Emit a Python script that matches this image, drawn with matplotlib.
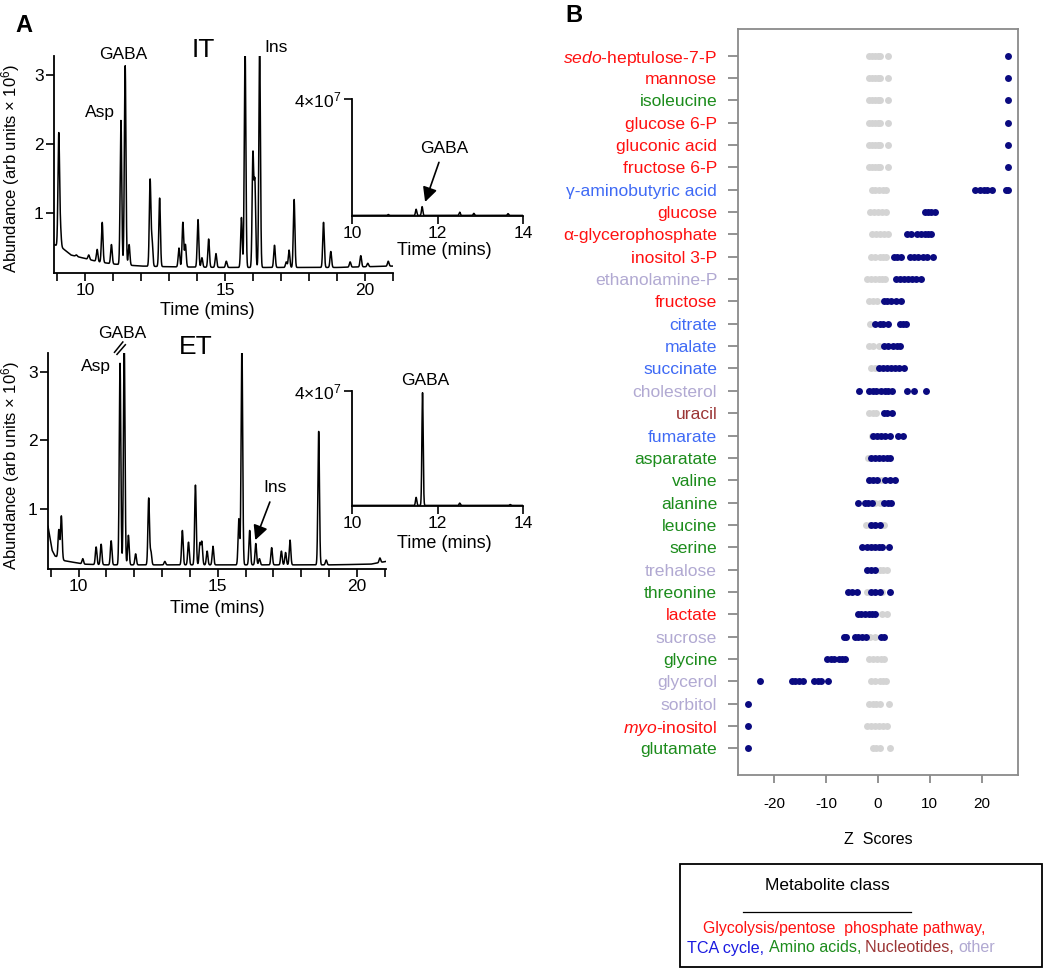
import numpy as np
import matplotlib
matplotlib.use("Agg")
import matplotlib.pyplot as plt
from matplotlib.patches import Rectangle
from matplotlib.lines import Line2D

plt.rcParams["font.family"] = ["Liberation Sans", "DejaVu Sans"]
plt.rcParams["mathtext.fontset"] = "custom"
plt.rcParams["mathtext.rm"] = "Liberation Sans"
plt.rcParams["mathtext.it"] = "Liberation Sans:italic"
plt.rcParams["axes.unicode_minus"] = False

# ---------------- Panel A data (time in mins, abundance x 1e6) ----------------
it_peak_t = [9.07, 9.13, 9.45, 9.7, 10.14, 10.44, 10.62, 10.95, 11.29, 11.44, 11.58,
             12.33, 12.40, 12.67, 13.36, 13.50, 13.59, 14.04, 14.18, 14.42, 14.68,
             15.05, 15.59, 15.72, 16.00, 16.07, 16.24, 16.77, 17.19, 17.29, 17.47,
             18.52, 18.78, 19.47, 19.85, 20.1, 20.83]
it_peak_h = [2.14, 0.76, 0.42, 0.40, 0.40, 0.48, 0.87, 0.55, 2.34, 3.13, 0.55,
             1.48, 0.60, 1.22, 0.50, 0.87, 0.55, 0.91, 0.36, 0.63, 0.42,
             0.31, 0.94, 3.40, 1.84, 1.43, 3.40, 0.54, 0.30, 0.47, 1.20,
             0.87, 0.45, 0.30, 0.39, 0.28, 0.31]
it_base_t = [8.9, 9.2, 9.5, 10.0, 10.5, 11.0, 12.0, 13.0, 15.0, 17.0, 19.0, 21.0]
it_base_h = [0.55, 0.50, 0.40, 0.35, 0.30, 0.27, 0.24, 0.23, 0.22, 0.22, 0.22, 0.24]

et_peak_t = [9.29, 9.38, 10.15, 10.63, 10.81, 11.17, 11.49, 11.64, 11.79, 12.05,
             12.52, 12.60, 13.1, 13.73, 13.95, 14.20, 14.36, 14.43, 14.62, 14.83,
             15.76, 15.87, 16.15, 16.37, 16.50, 16.94, 17.29, 17.44, 17.60, 18.63,
             18.9, 20.83]
et_peak_h = [0.70, 0.90, 0.28, 0.45, 0.49, 0.54, 3.12, 3.40, 0.62, 0.35,
             1.16, 0.38, 0.24, 0.69, 0.52, 1.35, 0.50, 0.52, 0.39, 0.46,
             0.86, 3.40, 0.69, 0.50, 0.28, 0.44, 0.39, 0.37, 0.55, 2.13,
             0.26, 0.29]
et_base_t = [8.9, 8.98, 9.05, 9.15, 9.5, 10.2, 11.0, 12.5, 16.0, 19.0, 20.5, 21.05]
et_base_h = [0.75, 0.56, 0.40, 0.32, 0.25, 0.20, 0.19, 0.19, 0.19, 0.19, 0.20, 0.24]

# insets (time in mins, abundance)
it_in_t = [10.85, 11.50, 11.64, 12.52, 12.85, 13.65]
it_in_h = [0.05e7, 0.23e7, 0.32e7, 0.13e7, 0.09e7, 0.08e7]
et_in_t = [11.50, 11.65, 12.52, 13.7]
et_in_h = [0.30e7, 3.94e7, 0.10e7, 0.05e7]

# ---------------- Panel B data: Z scores ----------------
metabolites = [
    "$\\mathit{sedo}$-heptulose-7-P", "mannose", "isoleucine", "glucose 6-P",
    "gluconic acid", "fructose 6-P", "γ-aminobutyric acid", "glucose",
    "α-glycerophosphate", "inositol 3-P", "ethanolamine-P", "fructose", "citrate",
    "malate", "succinate", "cholesterol", "uracil", "fumarate", "asparatate",
    "valine", "alanine", "leucine", "serine", "trehalose", "threonine", "lactate",
    "sucrose", "glycine", "glycerol", "sorbitol", "$\\mathit{myo}$-inositol", "glutamate",
]
classes = ["gly", "gly", "aa", "gly", "gly", "gly", "tca", "gly", "gly", "gly",
           "other", "gly", "tca", "tca", "tca", "other", "nuc", "tca", "aa", "aa",
           "aa", "aa", "aa", "other", "aa", "gly", "other", "aa", "other", "other",
           "gly", "aa"]
ctrl_z = [
    [-1.8, -1.2, -0.6, 0.0, 0.4, 1.9], [-1.8, -1.2, -0.6, 0.0, 0.4, 1.9],
    [-1.8, -1.2, -0.6, 0.0, 0.4, 1.9], [-1.8, -1.2, -0.6, 0.0, 0.4, 1.9],
    [-1.8, -1.2, -0.6, 0.0, 0.4, 1.9], [-1.8, -1.2, -0.6, 0.0, 0.4, 1.9],
    [-1.2, -0.5, 0.2, 0.9, 1.6], [-1.5, -0.8, 0.0, 0.8, 1.6],
    [-1.2, -0.4, 0.4, 1.2, 1.9], [-1.3, -0.5, 0.3, 1.0, 1.6],
    [-2.1, -1.4, -0.6, 0.2, 0.8, 1.4], [-1.7, -0.9, -0.2],
    [-1.5], [-1.8, -1.0, 0.1], [-1.4, -0.6], [-1.5, 0.0, 1.5],
    [-1.8, -1.0, -0.3], [-1.2, 0.0], [-2.0], [-1.5, 0.5],
    [-0.5, 0.4], [-2.3, -1.5, -0.5, 0.5, 1.2], [-1.0, 0.5], [0.3, 1.0, 1.8],
    [-2.2, 0.8], [0.8, 1.8], [-1.5, -0.6], [-1.8, -1.0, -0.2, 0.5, 1.1],
    [-1.3, -0.5, 0.3, 1.0, 1.6], [-1.7, -1.0, -0.3, 0.4, 2.1],
    [-2.1, -1.4, -0.6, 0.2, 1.0, 1.7], [-1.0, -0.3, 0.3, 2.4],
]
treat_z = [
    [25.0], [25.0], [25.0], [25.0], [25.0], [25.0],
    [18.8, 19.6, 20.4, 21.0, 22.0, 24.6, 25.1],
    [9.1, 9.7, 10.3, 10.9],
    [5.6, 6.3, 7.5, 8.2, 9.0, 9.6, 10.2],
    [3.0, 3.7, 4.4, 6.2, 7.0, 7.8, 8.6, 9.4, 10.6],
    [3.5, 4.3, 5.0, 5.8, 6.6, 7.4, 8.2],
    [1.1, 1.8, 2.6, 3.4, 4.4],
    [-0.5, 0.3, 1.0, 1.9, 4.2, 4.8, 5.4],
    [1.2, 2.0, 2.8, 3.6, 4.3],
    [0.1, 0.9, 1.7, 2.5, 3.3, 4.1, 5.0],
    [-3.7, -1.8, -1.0, -0.3, 0.5, 1.3, 2.0, 2.7, 5.6, 6.9, 9.3],
    [1.1, 1.8, 2.7],
    [-1.0, -0.2, 0.6, 1.4, 2.4, 3.8, 4.8],
    [-1.4, -0.6, 0.2, 1.0, 1.7, 2.4],
    [-1.8, -1.0, -0.2, 1.3, 2.3, 3.3],
    [-3.9, -2.6, -1.9, -1.2, 1.1, 1.9, 2.6],
    [-1.4, -0.5, 0.3],
    [-3.0, -2.2, -1.4, -0.6, 0.2, 0.8, 2.2],
    [-2.1, -1.4, -0.6],
    [-5.8, -5.0, -4.1, -1.4, -0.6, 0.3, 2.4],
    [-3.9, -3.2, -2.5, -1.8, -1.2, -0.5],
    [-6.6, -6.2, -4.5, -3.8, -3.1, -2.4, 0.5, 1.2],
    [-9.8, -9.1, -8.4, -7.6, -7.0, -6.4],
    [-22.7, -16.6, -16.0, -15.3, -14.5, -12.4, -11.6, -10.9, -9.6],
    [-25.0], [-25.0], [-25.0],
]
class_colors = {"gly": "#ff1010", "tca": "#3f6af5", "aa": "#1c8c1c",
                "nuc": "#9b3535", "other": "#b1a9d2"}

W, H = 1050, 975
fig = plt.figure(figsize=(10.5, 9.75), dpi=100)


def fr(x0, y0, x1, y1):
    # pixel box -> figure fraction
    return [x0 / W, 1 - y1 / H, (x1 - x0) / W, (y1 - y0) / H]


def trace(t, base_t, base_h, pk_t, pk_h, sig=0.028):
    base = np.interp(t, base_t, base_h)
    y = base.copy()
    for t0, h0 in zip(pk_t, pk_h):
        y += (h0 - np.interp(t0, base_t, base_h)) * np.exp(-0.5 * ((t - t0) / sig) ** 2)
    return y


def style_chrom(ax):
    for s in ["top", "right"]:
        ax.spines[s].set_visible(False)
    for s in ["left", "bottom"]:
        ax.spines[s].set_linewidth(1.3)
    ax.tick_params(direction="out", length=5.5, width=1.2, labelsize=12.5, pad=2)
    ax.tick_params(which="minor", direction="out", length=5.5, width=1.2)
    ax.patch.set_alpha(0)


t = np.linspace(8.9, 21.05, 9000)
ti = np.linspace(10, 14, 3000)

# ---- top chromatogram (IT) ----
ax1 = fig.add_axes(fr(54, 56, 393, 273))
ax1.plot(t, trace(t, it_base_t, it_base_h, it_peak_t, it_peak_h), color="black", lw=1.1)
ax1.set_xlim(8.9, 21.0)
ax1.set_ylim(0.14, 3.27)
ax1.set_xticks([10, 15, 20])
ax1.set_xticks(range(9, 22), minor=True)
ax1.set_yticks([1, 2, 3])
style_chrom(ax1)
ax1.set_xlabel("Time (mins)", fontsize=13)
ax1.xaxis.set_label_coords(0.451, -0.135)
ax1.set_ylabel("Abundance (arb units $\\times$ 10$^{6}$)", fontsize=12)
ax1.yaxis.set_label_coords(-0.094, 0.48)
ax1.text(11.36, 3.29, "GABA", fontsize=12.5, ha="center", va="center")
ax1.text(10.54, 2.46, "Asp", fontsize=12.5, ha="center", va="center")
ax1.text(14.22, 3.36, "IT", fontsize=19, ha="center", va="center")
ax1.text(16.83, 3.39, "Ins", fontsize=12.5, ha="center", va="center")

ax1i = fig.add_axes(fr(352, 99, 523, 216))
ax1i.plot(ti, trace(ti, [10, 14], [0.02e7, 0.02e7], it_in_t, it_in_h, sig=0.015),
          color="black", lw=1.1)
ax1i.set_xlim(10, 14)
ax1i.set_ylim(0, 4e7)
ax1i.set_xticks([10, 12, 14])
ax1i.set_yticks([4e7])
ax1i.set_yticklabels(["4$\\times$10$^{7}$"])
style_chrom(ax1i)
ax1i.tick_params(axis="y", labelsize=12.5)
ax1i.set_xlabel("Time (mins)", fontsize=13)
ax1i.xaxis.set_label_coords(0.54, -0.22)
ax1i.annotate("GABA", xy=(11.71, 0.48e7), xytext=(12.15, 2.32e7), fontsize=12.5,
              ha="center", va="center",
              arrowprops=dict(arrowstyle="-|>,head_width=0.35,head_length=0.7",
                              color="black", lw=1.2, shrinkA=3, shrinkB=0))

# ---- bottom chromatogram (ET) ----
ax2 = fig.add_axes(fr(48, 353, 386, 569))
ax2.plot(t, trace(t, et_base_t, et_base_h, et_peak_t, et_peak_h), color="black", lw=1.1)
ax2.set_xlim(8.9, 21.05)
ax2.set_ylim(0.13, 3.27)
ax2.set_xticks([10, 15, 20])
ax2.set_xticks(range(9, 22), minor=True)
ax2.set_yticks([1, 2, 3])
style_chrom(ax2)
ax2.set_xlabel("Time (mins)", fontsize=13)
ax2.xaxis.set_label_coords(0.50, -0.145)
ax2.set_ylabel("Abundance (arb units $\\times$ 10$^{6}$)", fontsize=12)
ax2.yaxis.set_label_coords(-0.077, 0.48)
ax2.text(11.56, 3.56, "GABA", fontsize=12.5, ha="center", va="center")
ax2.text(10.63, 3.07, "Asp", fontsize=12.5, ha="center", va="center")
ax2.text(14.22, 3.36, "ET", fontsize=19, ha="center", va="center")
ax2.plot([11.29, 11.59], [3.28, 3.43], color="black", lw=1.1, clip_on=False)
ax2.plot([11.38, 11.68], [3.25, 3.39], color="black", lw=1.1, clip_on=False)
ax2.annotate("Ins", xy=(16.35, 0.55), xytext=(17.07, 1.31), fontsize=12.5,
             ha="center", va="center",
             arrowprops=dict(arrowstyle="-|>,head_width=0.35,head_length=0.7",
                             color="black", lw=1.2, shrinkA=3, shrinkB=0))

ax2i = fig.add_axes(fr(352, 391, 523, 506))
ax2i.plot(ti, trace(ti, [10, 14], [0.02e7, 0.02e7], et_in_t, et_in_h, sig=0.015),
          color="black", lw=1.1)
ax2i.set_xlim(10, 14)
ax2i.set_ylim(0, 4e7)
ax2i.set_xticks([10, 12, 14])
ax2i.set_yticks([4e7])
ax2i.set_yticklabels(["4$\\times$10$^{7}$"])
style_chrom(ax2i)
ax2i.tick_params(axis="y", labelsize=12.5)
ax2i.set_xlabel("Time (mins)", fontsize=13)
ax2i.xaxis.set_label_coords(0.54, -0.25)
ax2i.text(11.71, 4.35e7, "GABA", fontsize=12.5, ha="center", va="center")

fig.text(24 / W, 1 - 25 / H, "A", fontsize=17, fontweight="bold", ha="center", va="center")
fig.text(574 / W, 1 - 16 / H, "B", fontsize=17, fontweight="bold", ha="center", va="center")

# ---------------- Panel B ----------------
axb = fig.add_axes(fr(738, 29, 1018, 775))
n = len(metabolites)
for i in range(n):
    y = n - 1 - i
    axb.plot(ctrl_z[i], [y] * len(ctrl_z[i]), "o", color="#d4d4d4", ms=5, mec="none")
for i in range(n):
    y = n - 1 - i
    axb.plot(treat_z[i], [y] * len(treat_z[i]), "o", color="#0a0a80", ms=5, mec="none")
axb.set_xlim(-27, 27)
axb.set_ylim(-1.2, 32.2)
axb.set_yticks(range(n - 1, -1, -1))
axb.set_yticklabels(metabolites, fontsize=12.6)
for lab, c in zip(axb.get_yticklabels(), classes):
    lab.set_color(class_colors[c])
axb.set_xticks([-20, -10, 0, 10, 20])
axb.set_xticklabels(["-20", "-10", "0", "10", "20"], fontsize=11)
for s in axb.spines.values():
    s.set_color("#8a8a8a")
    s.set_linewidth(1.3)
axb.tick_params(axis="y", direction="out", length=7, width=1.3, color="#8a8a8a", pad=8)
axb.tick_params(axis="x", direction="out", length=6, width=1.3, color="#8a8a8a", pad=10)
axb.set_xlabel("Z  Scores", fontsize=11.5, labelpad=15)

# ---- legend box ----
fig.patches.append(Rectangle((680 / W, 1 - 967 / H), (1042 - 680) / W, (967 - 864) / H,
                             transform=fig.transFigure, fill=False, lw=1.3, ec="black"))
fig.text(827 / W, 1 - 885 / H, "Metabolite class", fontsize=12.5, ha="center", va="center")
fig.lines.append(Line2D([743 / W, 911 / W], [1 - 912 / H, 1 - 912 / H],
                        transform=fig.transFigure, color="black", lw=0.9))

rend = fig.canvas.get_renderer()


def text_width(s, size):
    tt = fig.text(0, 0, s, fontsize=size)
    w = tt.get_window_extent(rend).width
    tt.remove()
    return w


def colored_line(parts, xc, yc, size):
    full = "".join(p for p, _ in parts)
    total = text_width(full, size)
    bar = text_width("I", size)
    x0 = xc - total / 2
    prefix = ""
    for s, c in parts:
        off = text_width(prefix + "I", size) - bar if prefix else 0
        fig.text((x0 + off) / W, 1 - yc / H, s, color=c, fontsize=size, va="center")
        prefix += s


colored_line([("Glycolysis/pentose  phosphate pathway,", "#ff1010")], 844, 928, 11.4)
colored_line([("TCA cycle, ", "#1a1ae0"), ("Amino acids, ", "#1c8c1c"),
              ("Nucleotides, ", "#9b3535"), ("other", "#b1a9d2")], 841, 948, 11.6)

fig.savefig("out.png", dpi=100)
